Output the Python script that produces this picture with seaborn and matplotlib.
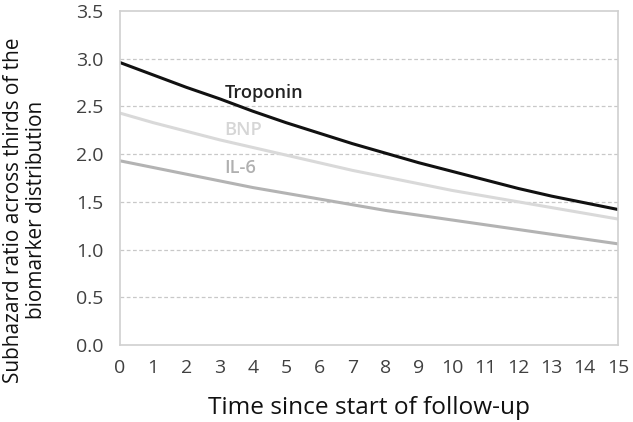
import matplotlib
matplotlib.use("Agg")
import matplotlib.pyplot as plt
import seaborn as sns
import pandas as pd
import numpy as np

years = list(range(16))
troponin = [2.96, 2.83, 2.70, 2.58, 2.45, 2.33, 2.22, 2.11, 2.01, 1.91, 1.82, 1.73, 1.64, 1.56, 1.49, 1.42]
bnp = [2.43, 2.33, 2.24, 2.15, 2.07, 1.99, 1.91, 1.83, 1.76, 1.69, 1.62, 1.56, 1.50, 1.44, 1.38, 1.32]
il6 = [1.93, 1.86, 1.79, 1.72, 1.65, 1.59, 1.53, 1.47, 1.41, 1.36, 1.31, 1.26, 1.21, 1.16, 1.11, 1.06]
series_names = ["Troponin", "BNP", "IL-6"]
y_ticks = [0.0, 0.5, 1.0, 1.5, 2.0, 2.5, 3.0, 3.5]

sns.set_style("white")
plt.rcParams['font.family'] = ['Open Sans', 'DejaVu Sans']

df = pd.DataFrame({
    "t": years * 3,
    "v": troponin + bnp + il6,
    "s": [series_names[0]] * 16 + [series_names[1]] * 16 + [series_names[2]] * 16,
})
colors = {"Troponin": "#111111", "BNP": "#d9d9d9", "IL-6": "#b3b3b3"}

fig = plt.figure(figsize=(6.33, 4.22), dpi=100)
ax = fig.add_axes([120/633, (422-345)/422, (618-120)/633, (345-11)/422])
sns.lineplot(data=df, x="t", y="v", hue="s", palette=colors, linewidth=2.2, ax=ax, legend=False)

ax.set_xlim(0, 15)
ax.set_ylim(0, 3.5)
ax.set_xticks(years)
ax.set_yticks(y_ticks)
ax.set_yticklabels([f"{v:.1f}" for v in y_ticks])
for v in y_ticks[1:-1]:
    ax.axhline(v, color="#c8c8c8", lw=0.9, ls=(0, (3, 2)), zorder=0)
for sp in ax.spines.values():
    sp.set_color("#d0d0d0")
    sp.set_linewidth(1.2)
ax.tick_params(axis="both", colors="#d0d0d0", labelcolor="#404040", labelsize=14, length=5, width=1)
ax.tick_params(axis="y", pad=7)
ax.tick_params(axis="x", pad=5)

xl = ax.set_xlabel("Time since start of follow-up", fontsize=17, color="#111111", va="center")
ax.xaxis.set_label_coords(0.5, -0.189)
yl = ax.set_ylabel("Subhazard ratio across thirds of the\nbiomarker distribution", fontsize=14.2,
                   color="#111111", linespacing=1.15, va="center", ha="center")
ax.yaxis.set_label_coords(-0.191, 0.404)

t1 = ax.text(3.15, 2.64, "Troponin", color="#222222", fontsize=13, fontweight=600, va="center", ha="left")
t2 = ax.text(3.15, 2.25, "BNP", color="#d6d6d6", fontsize=13, fontweight=600, va="center", ha="left")
t3 = ax.text(3.15, 1.86, "IL-6", color="#b0b0b0", fontsize=13, fontweight=600, va="center", ha="left")

# fit text sizes to the measured reference extents
fig.canvas.draw()
r = fig.canvas.get_renderer()
def fit(t, target, use_height=False):
    bb = t.get_window_extent(r)
    cur = bb.height if use_height else bb.width
    return t.get_fontsize() * target / cur
xl.set_fontsize(fit(xl, 322))
yl.set_fontsize(fit(yl, 345, use_height=True))
s = fit(t1, 79)
for t in (t1, t2, t3):
    t.set_fontsize(s)

fig.savefig("out.png", dpi=100)
